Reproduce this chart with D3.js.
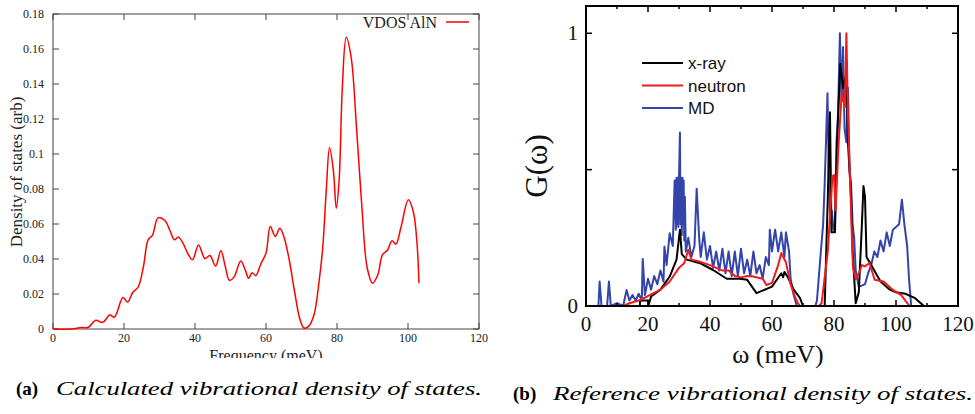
<!DOCTYPE html>
<html><head><meta charset="utf-8">
<script src="https://cdn.jsdelivr.net/npm/d3@7"></script>
<style>body{margin:0;background:#fff}svg{display:block}</style>
</head><body>
<svg id="c" width="975" height="414"></svg>
<script>
// ---------- Panel (a): calculated VDOS ----------
const vdosFreq = [0,5,8,10,12,14,16,17.3,19.7,21,22.5,24,25.5,26.8,28,29.6,31.5,33,34.2,35.3,36.5,38,39.3,41,42.8,44.2,45.8,47.3,48.5,49.7,51,52.9,54.2,55.1,56.1,57.1,58.5,60,61.2,62.6,63.9,65,66.5,68,69.5,70.7,72,73.5,75,76,77,77.9,79,79.8,80.6,81.5,82.6,84,85.5,87,88.5,90,91.5,92.8,94.2,95.5,96.6,98,100.1,101.5,102.5,103.1];
const vdosVal  = [0,0,0.0008,0.001,0.005,0.0038,0.008,0.0068,0.018,0.0154,0.021,0.024,0.036,0.051,0.0535,0.0635,0.062,0.056,0.051,0.0525,0.0495,0.043,0.0396,0.048,0.0402,0.042,0.036,0.0447,0.036,0.0278,0.0298,0.0388,0.0335,0.029,0.0322,0.0305,0.037,0.0434,0.0586,0.0529,0.0576,0.053,0.04,0.022,0.006,0.0006,0.0015,0.008,0.028,0.047,0.08,0.1037,0.09,0.069,0.085,0.138,0.1667,0.155,0.115,0.07,0.035,0.0262,0.031,0.0424,0.045,0.0504,0.0485,0.058,0.0738,0.067,0.05,0.0262];
const aXTicks = [0,20,40,60,80,100,120];
const aYTicks = [0,0.02,0.04,0.06,0.08,0.1,0.12,0.14,0.16,0.18];

// ---------- Panel (b): reference G(w) ----------
const xrayFreq = [0,17.4,17.4,20.1,20.1,21,24,27,29.2,30.3,30.9,32.5,36.8,41,45.4,49.7,52,55,60,63,63.6,64,65,67,69,70,77,78,78.7,79.2,80.3,81,82,83,84,84.5,85.5,86,87,88,89,89.5,90,90.5,92,95,98,100,103,106,108,109,120];
const xrayVal  = [0,0,0.02,0.02,0,0.035,0.06,0.108,0.17,0.28,0.19,0.17,0.157,0.132,0.1,0.1,0.096,0.047,0.071,0.12,0.105,0.125,0.108,0.06,0.03,0,0,0.4,0.71,0.27,0.27,0.6,0.887,0.8,0.856,0.6,0.4,0.2,0.01,0.05,0.3,0.44,0.4,0.18,0.15,0.09,0.06,0.05,0.045,0.03,0.01,0,0];
const neutronFreq = [0,12,14,17,19.6,24,27,30,31.7,33,34,36,40,44,46,48,50,52,53.9,57,58.2,60,62,63,64.5,66,67.5,68.4,69,75,76,78,79.5,80,80.5,81.5,82.5,83.5,84,84.5,85.5,86.1,87,88,89,89.9,91.5,93.1,96,99,101.7,103,104.4,120];
const neutronVal  = [0,0,0.01,0.02,0.034,0.06,0.09,0.14,0.157,0.206,0.17,0.165,0.15,0.13,0.13,0.11,0.105,0.11,0.108,0.1,0.077,0.085,0.15,0.194,0.16,0.08,0.03,0.01,0,0,0.01,0.2,0.476,0.48,0.35,0.6,0.78,0.73,1.0,0.7,0.35,0.145,0.098,0.12,0.15,0.145,0.157,0.096,0.09,0.059,0.04,0.02,0,0];
const mdFreq = [0,4,4.4,5,6.8,7.4,8,10,12,13.1,14,15,16,17,18,18.3,19,20,21,22,23,24,25,25.3,26,27,28,28.6,29,29.2,29.4,29.6,29.8,30,30.3,30.5,30.7,30.9,31.1,31.3,31.5,31.7,31.9,32.2,33,34,35,35.7,36.5,37,38,39,40,41,42,43,44,45,46,47,48,49,50,51,52,53,54,55,56,57,58,59,59.3,60,61,62,63,64,64.5,65.5,66,67,68,72,74,74.5,75.9,76.5,77,77.9,78.3,78.8,79.3,79.8,80.3,80.8,81.3,81.9,82.4,82.9,83.4,84,84.5,85,85.5,86,86.5,87,88,90,91,92,93,94,95,96,97,98,99,100,101,101.9,102.7,103.6,104.2,104.9,120];
const mdVal  = [0,0,0.09,0,0,0.09,0,0.01,0,0.059,0.02,0.04,0.02,0.045,0.02,0.172,0.04,0.1,0.06,0.11,0.08,0.13,0.09,0.218,0.15,0.267,0.22,0.46,0.28,0.47,0.3,0.47,0.29,0.47,0.636,0.3,0.47,0.26,0.47,0.3,0.46,0.24,0.4,0.2,0.25,0.18,0.22,0.43,0.25,0.18,0.27,0.17,0.22,0.14,0.2,0.13,0.21,0.12,0.2,0.11,0.2,0.11,0.21,0.12,0.17,0.11,0.2,0.12,0.15,0.1,0.18,0.15,0.28,0.2,0.28,0.2,0.27,0.18,0.27,0.2,0.1,0.04,0,0,0,0.02,0.22,0.3,0.45,0.78,0.5,0.3,0.35,0.28,0.3,0.6,0.7,1.0,0.75,0.95,0.65,0.6,0.8,0.5,0.45,0.3,0.25,0.13,0.07,0.08,0.12,0.15,0.2,0.18,0.24,0.2,0.27,0.22,0.28,0.29,0.3,0.39,0.3,0.22,0.1,0,0];
const bXTicks = [0,20,40,60,80,100,120];
const bXMinor = [10,30,50,70,90,110];
const bYTicks = [0,0.5,1];
const bYLabels = ["0","","1"];
const legendNames = ["x-ray","neutron","MD"];
const legendColors = ["#000000","#ee1c1c","#3344aa"];

const svg = d3.select("#c");
const zip = (xs, ys) => xs.map((x,i)=>[x, ys[i]]);

// ===== Panel (a) =====
svg.append("defs").append("clipPath").attr("id","clipA")
  .append("rect").attr("x",0).attr("y",0).attr("width",495).attr("height",358);
const gA = svg.append("g").attr("clip-path","url(#clipA)");
const xa = d3.scaleLinear().domain([0,120]).range([53,479]);
const ya = d3.scaleLinear().domain([0,0.18]).range([329,14]);
const serif = "'Liberation Serif','Times New Roman',serif";
const frameA = "#444";

aXTicks.forEach(t=>{
  gA.append("line").attr("x1",xa(t)).attr("x2",xa(t)).attr("y1",329).attr("y2",323).attr("stroke",frameA);
  gA.append("line").attr("x1",xa(t)).attr("x2",xa(t)).attr("y1",14).attr("y2",20).attr("stroke",frameA);
  gA.append("text").attr("x",xa(t)).attr("y",342).attr("text-anchor","middle")
    .attr("font-family",serif).attr("font-size",12).attr("fill","#222").text(t);
});
aYTicks.forEach(t=>{
  gA.append("line").attr("x1",53).attr("x2",59).attr("y1",ya(t)).attr("y2",ya(t)).attr("stroke",frameA);
  gA.append("line").attr("x1",479).attr("x2",473).attr("y1",ya(t)).attr("y2",ya(t)).attr("stroke",frameA);
  gA.append("text").attr("x",44).attr("y",ya(t)+4).attr("text-anchor","end")
    .attr("font-family",serif).attr("font-size",12).attr("fill","#222").text(d3.format("~g")(t));
});
gA.append("rect").attr("x",53).attr("y",14).attr("width",426).attr("height",315)
  .attr("fill","none").attr("stroke",frameA).attr("stroke-width",1);

gA.append("path").datum(zip(vdosFreq,vdosVal))
  .attr("d", d3.line().x(d=>xa(d[0])).y(d=>ya(d[1])).curve(d3.curveCatmullRom.alpha(0.5)))
  .attr("fill","none").attr("stroke","#ff0000").attr("stroke-width",1.5);

gA.append("text").attr("x",437).attr("y",28).attr("text-anchor","end")
  .attr("font-family",serif).attr("font-size",16).attr("fill","#222").text("VDOS AlN");
gA.append("line").attr("x1",446).attr("x2",469).attr("y1",22).attr("y2",22)
  .attr("stroke","#ff0000").attr("stroke-width",1.5);

gA.append("text").attr("transform","translate(22,172) rotate(-90)").attr("text-anchor","middle")
  .attr("font-family",serif).attr("font-size",17).attr("fill","#222").text("Density of states (arb)");
gA.append("text").attr("x",266).attr("y",361).attr("text-anchor","middle")
  .attr("font-family",serif).attr("font-size",16).attr("fill","#222").text("Frequency (meV)");

// ===== Panel (b) =====
const gB = svg.append("g");
const xb = d3.scaleLinear().domain([0,120]).range([586,958]);
const yb = d3.scaleLinear().domain([0,1.1]).range([306,6]);

const lineB = d3.line().x(d=>xb(d[0])).y(d=>yb(d[1]));
const seriesB = [zip(xrayFreq,xrayVal), zip(neutronFreq,neutronVal), zip(mdFreq,mdVal)];
[2,0,1].forEach(i=>{
  gB.append("path").datum(seriesB[i]).attr("d",lineB)
    .attr("fill","none").attr("stroke",legendColors[i]).attr("stroke-width",2).attr("stroke-linejoin","round");
});

bXTicks.forEach(t=>{
  gB.append("line").attr("x1",xb(t)).attr("x2",xb(t)).attr("y1",306).attr("y2",300).attr("stroke","#000").attr("stroke-width",1.5);
  gB.append("line").attr("x1",xb(t)).attr("x2",xb(t)).attr("y1",6).attr("y2",12).attr("stroke","#000").attr("stroke-width",1.5);
  gB.append("text").attr("x",xb(t)).attr("y",331).attr("text-anchor","middle")
    .attr("font-family",serif).attr("font-size",21).attr("fill","#111").text(t);
});
bXMinor.forEach(t=>{
  gB.append("line").attr("x1",xb(t)).attr("x2",xb(t)).attr("y1",306).attr("y2",303).attr("stroke","#000").attr("stroke-width",1.5);
  gB.append("line").attr("x1",xb(t)).attr("x2",xb(t)).attr("y1",6).attr("y2",9).attr("stroke","#000").attr("stroke-width",1.5);
});
bYTicks.forEach((t,i)=>{
  gB.append("line").attr("x1",586).attr("x2",592).attr("y1",yb(t)).attr("y2",yb(t)).attr("stroke","#000").attr("stroke-width",1.5);
  gB.append("line").attr("x1",958).attr("x2",952).attr("y1",yb(t)).attr("y2",yb(t)).attr("stroke","#000").attr("stroke-width",1.5);
  gB.append("text").attr("x",578).attr("y",yb(t)+7).attr("text-anchor","end")
    .attr("font-family",serif).attr("font-size",21).attr("fill","#111").text(bYLabels[i]);
});
gB.append("rect").attr("x",586).attr("y",6).attr("width",372).attr("height",300)
  .attr("fill","none").attr("stroke","#000").attr("stroke-width",2);

legendNames.forEach((n,i)=>{
  const y = 63 + i*22.5;
  gB.append("line").attr("x1",642).attr("x2",683).attr("y1",y).attr("y2",y)
    .attr("stroke",legendColors[i]).attr("stroke-width",2);
  gB.append("text").attr("x",688).attr("y",y+6).attr("font-family","'Liberation Sans',Arial,sans-serif")
    .attr("font-size",17).attr("fill","#111").text(n);
});

gB.append("text").attr("transform","translate(547,166) rotate(-90)").attr("text-anchor","middle")
  .attr("font-family",serif).attr("font-size",31).attr("fill","#111").text("G(ω)");
gB.append("text").attr("x",778).attr("y",363).attr("text-anchor","middle")
  .attr("font-family",serif).attr("font-size",26).attr("fill","#111").text("ω (meV)");

// ===== captions =====
svg.append("text").attr("x",16).attr("y",395).attr("font-family",serif).attr("font-weight","bold")
  .attr("font-size",19).attr("fill","#000").text("(a)");
svg.append("text").attr("x",56).attr("y",395).attr("font-family",serif).attr("font-style","italic")
  .attr("font-size",19).attr("textLength",426).attr("lengthAdjust","spacingAndGlyphs").attr("fill","#000")
  .text("Calculated vibrational density of states.");
svg.append("text").attr("x",513).attr("y",400).attr("font-family",serif).attr("font-weight","bold")
  .attr("font-size",19).attr("fill","#000").text("(b)");
svg.append("text").attr("x",553).attr("y",400).attr("font-family",serif).attr("font-style","italic")
  .attr("font-size",19).attr("textLength",420).attr("lengthAdjust","spacingAndGlyphs").attr("fill","#000")
  .text("Reference vibrational density of states.");
</script>
</body></html>
